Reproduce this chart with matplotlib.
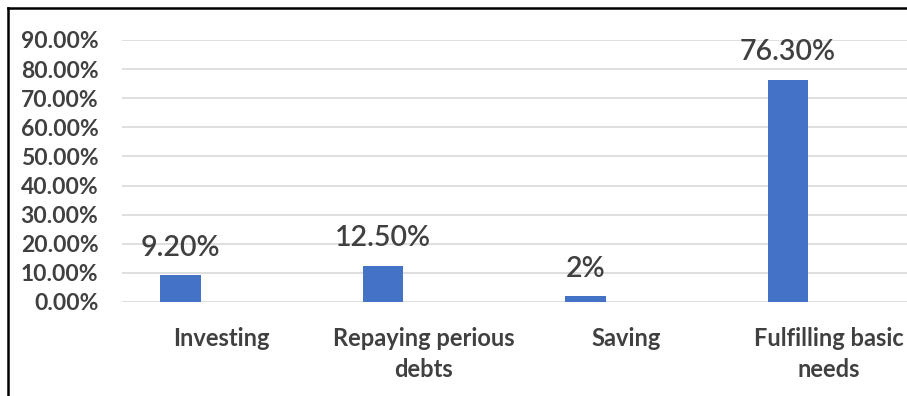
import numpy as np
import matplotlib
matplotlib.use("Agg")
import matplotlib.pyplot as plt
from matplotlib.lines import Line2D

# data
categories = ["Investing", "Repaying perious\ndebts", "Saving", "Fulfilling basic\nneeds"]
shares = [0.092, 0.125, 0.02, 0.763]
value_labels = ["9.20%", "12.50%", "2%", "76.30%"]
y_ticks = [0.0, 0.1, 0.2, 0.3, 0.4, 0.5, 0.6, 0.7, 0.8, 0.9]

plt.rcParams['font.family'] = ['Lato', 'DejaVu Sans']
text_col = '#404040'

fig = plt.figure(figsize=(9.07, 3.96), dpi=100)
ax = fig.add_axes([122 / 907, 94 / 396, 785 / 907, 262 / 396])

x = np.arange(len(categories))
ax.bar(x - 0.2, shares, width=0.2, color='#4472C4', zorder=3)

# value labels above bars
for xi, v, lab in zip(x, shares, value_labels):
    ax.annotate(lab, (xi - 0.2, v), xytext=(0, 14), textcoords='offset points',
                ha='center', va='baseline', fontsize=20.5, fontweight='semibold',
                color=text_col)

ax.set_xlim(-0.489, 3.388)
ax.set_ylim(0, 0.9)
ax.set_yticks(y_ticks)
ax.set_yticklabels([f"{t * 100:.2f}%" for t in y_ticks])
ax.set_xticks(x)
ax.set_xticklabels(categories, linespacing=1.4)

ax.tick_params(axis='y', length=0, pad=17, labelsize=16.5, labelcolor=text_col)
ax.tick_params(axis='x', length=0, pad=18, labelsize=17, labelcolor=text_col)
for lbl in ax.get_xticklabels() + ax.get_yticklabels():
    lbl.set_fontweight('bold')

ax.yaxis.grid(True, color='#d9d9d9', linewidth=1.2, zorder=0)
ax.set_axisbelow(True)
for s in ax.spines.values():
    s.set_visible(False)

# outer frame (top and left edges visible)
fig.add_artist(Line2D([8 / 907, 1.0], [1 - 8 / 396, 1 - 8 / 396], color='black', linewidth=1.8,
                      transform=fig.transFigure))
fig.add_artist(Line2D([8 / 907, 8 / 907], [0.0, 1 - 8 / 396], color='black', linewidth=1.8,
                      transform=fig.transFigure))

fig.savefig("out.png", dpi=100)
